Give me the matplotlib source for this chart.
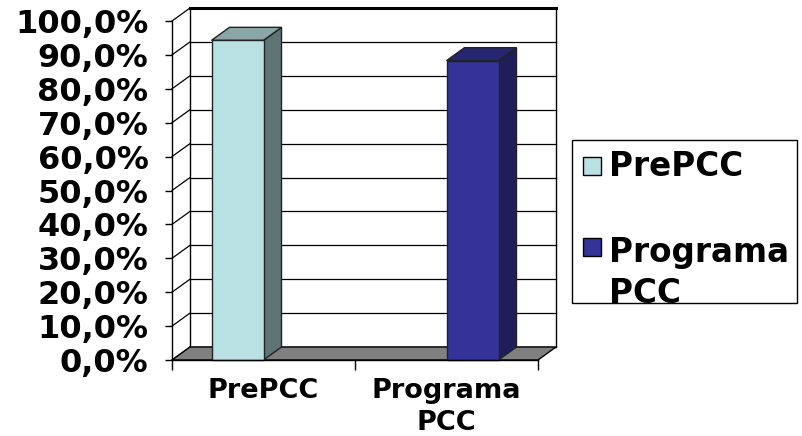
"""
PrePCC vs Programa PCC 三维柱状图
"""
import matplotlib.pyplot as plt
from matplotlib.patches import Rectangle, Polygon
from matplotlib.lines import Line2D

# ====================== 1. 数据 ======================
CATEGORIES = ["PrePCC", "Programa\nPCC"]
SERIES_NAMES = ["PrePCC", "Programa\nPCC"]
# 每个系列在两个类别上的取值（%）
PREPCC_VALUES = [94.3, 0.0]
PROGRAMA_VALUES = [0.0, 88.3]
Y_TICKS = list(range(0, 101, 10))

# 颜色：正面 / 侧面 / 顶面
FRONT_COLORS = ["#B9E0E3", "#333399"]
SIDE_COLORS = ["#5F7474", "#1E1E5A"]
TOP_COLORS = ["#8BA6A7", "#262673"]
FLOOR_COLOR = "#808080"

# ====================== 2. 画布与坐标轴 ======================
W, H = 802, 436
fig = plt.figure(figsize=(W / 100, H / 100), dpi=100)
fig.patch.set_facecolor("white")

# 前平面：x 172~538 px，y 0% 在 360 px，100% 在 21 px
ax = fig.add_axes([172 / W, (H - 360) / H, 366 / W, (360 - 21) / H])
ax.set_xlim(0, 2)
ax.set_ylim(0, 100)
ax.patch.set_visible(False)

# 纵深偏移（数据单位）
DX = 18 / 366 * 2
DY = 13 / 339 * 100
BAR_W = 52 / 366 * 2

# ====================== 3. 背景墙、侧墙、地板 ======================
back = Rectangle((DX, DY), 2, 100, facecolor="white", edgecolor="black",
                 lw=1.0, clip_on=False, zorder=1)
ax.add_patch(back)
ax.add_line(Line2D([DX, 2 + DX], [100 + DY, 100 + DY], color="black",
                   lw=2.2, clip_on=False, zorder=2))
for t in Y_TICKS:
    ax.add_line(Line2D([DX, 2 + DX], [t + DY, t + DY], color="black",
                       lw=0.9, clip_on=False, zorder=2))
    ax.add_line(Line2D([0, DX], [t, t + DY], color="black",
                       lw=0.9, clip_on=False, zorder=2))

floor = Polygon([(0, 0), (2, 0), (2 + DX, DY), (DX, DY)], closed=True,
                facecolor=FLOOR_COLOR, edgecolor="black", lw=1.0,
                clip_on=False, zorder=3)
ax.add_patch(floor)

# ====================== 4. 柱子 ======================
for s, vals in enumerate([PREPCC_VALUES, PROGRAMA_VALUES]):
    for c, v in enumerate(vals):
        if v <= 0:
            continue
        x0 = c + 0.5 - BAR_W + s * BAR_W
        x1 = x0 + BAR_W
        front = Rectangle((x0, 0), BAR_W, v, facecolor=FRONT_COLORS[s],
                          edgecolor="#222222", lw=1.0, clip_on=False, zorder=5)
        side = Polygon([(x1, 0), (x1 + DX, DY), (x1 + DX, v + DY), (x1, v)],
                       closed=True, facecolor=SIDE_COLORS[s], edgecolor="#222222",
                       lw=1.0, clip_on=False, zorder=4)
        top = Polygon([(x0, v), (x1, v), (x1 + DX, v + DY), (x0 + DX, v + DY)],
                      closed=True, facecolor=TOP_COLORS[s], edgecolor="#222222",
                      lw=1.0, clip_on=False, zorder=4)
        ax.add_patch(side)
        ax.add_patch(top)
        ax.add_patch(front)

# ====================== 5. 坐标轴刻度 ======================
for side_name in ["top", "right"]:
    ax.spines[side_name].set_visible(False)
ax.spines["left"].set_linewidth(1.0)
ax.spines["bottom"].set_linewidth(1.0)
ax.spines["left"].set_zorder(6)
ax.spines["bottom"].set_zorder(6)

ax.set_yticks(Y_TICKS)
ax.set_yticklabels([f"{t:.1f}%".replace(".", ",") for t in Y_TICKS],
                   fontsize=23, fontweight="bold")
ax.tick_params(axis="y", direction="out", length=5, width=1, pad=12)

ax.set_xticks([0, 1, 2])
ax.set_xticklabels(["", "", ""])
ax.set_xticks([0.5, 1.5], minor=True)
ax.set_xticklabels(CATEGORIES, minor=True, fontsize=19.5, fontweight="bold",
                   linespacing=1.3)
ax.tick_params(axis="x", which="major", direction="out", length=7, width=1)
ax.tick_params(axis="x", which="minor", length=0, pad=13)

# ====================== 6. 图例 ======================
fig.patches.append(Rectangle((572 / W, (H - 303) / H), 225 / W, 163 / H,
                             transform=fig.transFigure, facecolor="white",
                             edgecolor="black", lw=1.0))
legend_y = [166, 247]
text_y = [166, 236]
for i, name in enumerate(SERIES_NAMES):
    yc = legend_y[i]
    fig.patches.append(Rectangle((583 / W, (H - yc - 9) / H), 18 / W, 18 / H,
                                 transform=fig.transFigure,
                                 facecolor=FRONT_COLORS[i], edgecolor="black",
                                 lw=1.0))
    fig.text(609 / W, (H - text_y[i]) / H, name, fontsize=23.5,
             fontweight="bold", ha="left",
             va="top" if "\n" in name else "center", linespacing=1.3)

plt.savefig("out.png", dpi=100)
plt.close()
